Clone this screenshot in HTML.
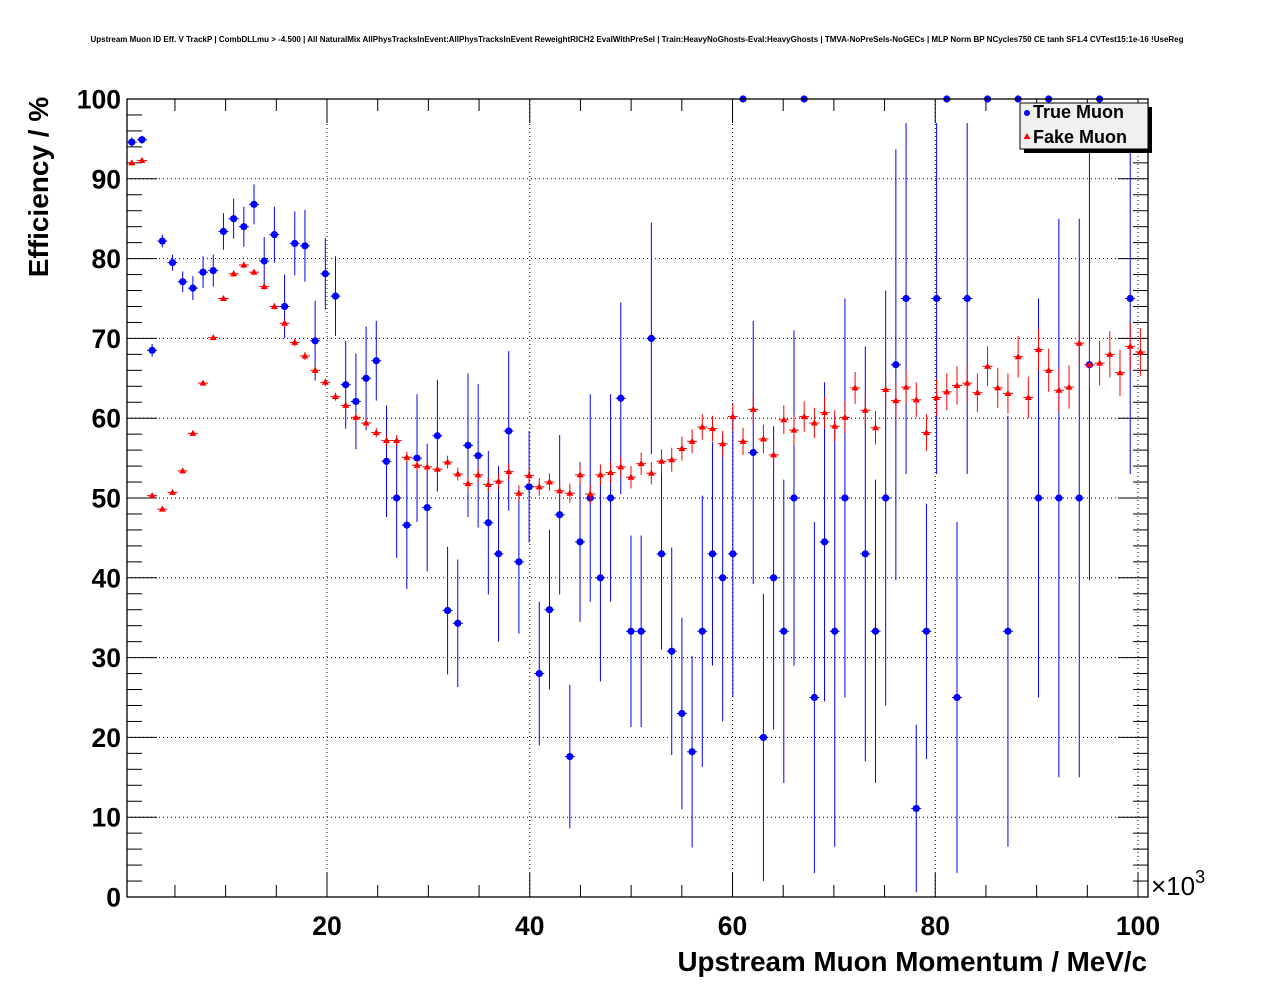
<!DOCTYPE html>
<html><head><meta charset="utf-8"><style>
html,body{margin:0;padding:0;background:#fff;}
svg{display:block;font-family:"Liberation Sans",sans-serif;}
</style></head><body>
<svg id="c" width="1276" height="996" viewBox="0 0 1276 996">
<text x="637" y="42" font-size="8" font-weight="bold" text-anchor="middle">Upstream Muon ID Eff. V TrackP | CombDLLmu &gt; -4.500 | All NaturalMix AllPhysTracksInEvent:AllPhysTracksInEvent ReweightRICH2 EvalWithPreSel | Train:HeavyNoGhosts-Eval:HeavyGhosts | TMVA-NoPreSels-NoGECs | MLP Norm BP NCycles750 CE tanh SF1.4 CVTest15:1e-16 !UseReg</text>
<g id="grid"></g>
<g id="ticks"></g>
<g id="blue"></g>
<g id="red"></g>
<rect x="127" y="99" width="1021" height="798" fill="none" stroke="#000" stroke-width="1.3"/>
<text x="1151" y="895" font-size="26">×10<tspan font-size="18" dy="-12">3</tspan></text>
<text x="1147" y="971" font-size="27.8" font-weight="bold" text-anchor="end">Upstream Muon Momentum / MeV/c</text>
<text transform="translate(48,187) rotate(-90)" font-size="28" font-weight="bold" text-anchor="middle">Efficiency / %</text>
<g>
<rect x="1024" y="107" width="128" height="46" fill="#000"/>
<rect x="1020" y="103" width="128" height="46" fill="#f0f0f0" stroke="#000" stroke-width="1"/>
<circle cx="1027" cy="113" r="3" fill="#0000ff"/>
<text x="1033" y="118" font-size="18" font-weight="bold">True Muon</text>
<polygon points="1027,133 1023.5,139 1030.5,139" fill="#ff0000"/>
<text x="1033" y="143" font-size="18" font-weight="bold">Fake Muon</text>
</g>
</svg>
<script>
const xTicks=[20,40,60,80,100];
const yTicks=[0,10,20,30,40,50,60,70,80,90,100];
const redVals=[92,92.3,50.3,48.6,50.7,53.4,58.1,64.4,70.1,75,78.1,79.2,78.3,76.5,74,71.9,69.5,67.8,66,64.5,62.7,61.6,60.1,59.4,58.2,57.2,57.2,55.1,54.1,53.9,53.6,54.5,53,51.8,52.9,51.7,52.1,53.3,50.6,52.8,51.4,52,50.9,50.6,52.9,50.5,52.9,53.2,53.9,52.6,54.3,53.1,54.6,54.8,56.2,57.1,58.9,58.7,56.8,60.2,57.1,61.1,57.4,55.4,59.8,58.5,60.2,59.4,60.7,59,60.1,63.8,61,58.8,63.6,62.2,63.9,62.3,58.2,62.6,63.3,64.1,64.4,63.2,66.5,63.8,63.1,67.7,62.6,68.6,66,63.5,63.9,69.4,66.7,66.9,68,65.7,69,68.3];
const redErrs=[0.3,0.3,0.3,0.3,0.3,0.3,0.3,0.3,0.3,0.3,0.4,0.4,0.4,0.4,0.4,0.5,0.5,0.5,0.5,0.5,0.5,0.6,0.6,0.6,0.6,0.7,0.7,0.7,0.7,0.8,0.8,0.8,0.8,0.9,0.9,0.9,1,1,1,1,1.1,1.1,1.1,1.2,1.2,1.2,1.3,1.3,1.3,1.4,1.4,1.4,1.5,1.5,1.5,1.5,1.6,1.6,1.6,1.7,1.7,1.7,1.8,1.8,1.8,1.9,1.9,1.9,2,2,2,2,2.1,2.1,2.1,2.2,2.2,2.2,2.3,2.3,2.3,2.4,2.4,2.4,2.5,2.5,2.5,2.6,2.6,2.6,2.7,2.7,2.7,2.8,2.8,2.8,2.9,2.9,3,3];
const blueBins=[0,1,2,3,4,5,6,7,8,9,10,11,12,13,14,15,16,17,18,19,20,21,22,23,24,25,26,27,28,29,30,31,32,33,34,35,36,37,38,39,40,41,42,43,44,45,46,47,48,49,50,51,52,53,54,55,56,57,58,59,60,61,62,63,64,65,66,67,68,69,70,72,73,74,75,76,77,78,79,80,81,82,84,86,87,89,90,91,93,94,95,98];
const blueVals=[94.6,94.9,68.5,82.2,79.5,77.1,76.3,78.3,78.5,83.4,85,84,86.8,79.7,83,74,81.9,81.6,69.7,78.1,75.3,64.2,62.1,65,67.2,54.6,50,46.6,55,48.8,57.8,35.9,34.3,56.6,55.3,46.9,43,58.4,42,51.4,28,36,47.9,17.6,44.5,50,40,50,62.5,33.3,33.3,70,43,30.8,23,18.2,33.3,43,40,43,100,55.7,20,40,33.3,50,100,25,44.5,33.3,50,43,33.3,50,66.7,75,11.1,33.3,75,100,25,75,100,33.3,100,50,100,50,50,66.7,100,75];
const blueErrs=[0.6,0.5,0.8,0.8,1,1.3,1.5,2,2,2.3,2.5,2.5,2.5,3,3.5,4,4,4.5,5,4.5,5,5.5,6,6.5,5,7,7.5,8,8,8,7,8,8,9,9,9,11,10,9,7,9,10,10,9,10,13,13,13,12,12,12,14.5,12,13,12,12,17,14,18,18,0,16.5,18,19,19,21,0,22,20,27,25,26,19,26,27,22,10.5,16,22,0,22,22,0,27,0,25,0,35,35,27,0,22];

const NS='http://www.w3.org/2000/svg';
const X0=127,X1=1148,Y0=897,Y1=99;
function xs(p){return 124.25+10.1375*p;}
function ys(v){return Y0-(v/100)*(Y0-Y1);}
function binCenter(i){return 0.74+1.005*i;}
const halfW=5;
function mk(tag,attrs,parent){const e=document.createElementNS(NS,tag);for(const k in attrs)e.setAttribute(k,attrs[k]);parent.appendChild(e);return e;}
const grid=document.getElementById('grid'),ticks=document.getElementById('ticks'),svg=document.getElementById('c');
xTicks.forEach(t=>{
  const x=xs(t);
  const g=mk('line',{x1:x,x2:x,y1:Y0,y2:Y1,stroke:'#000','stroke-width':1,'stroke-dasharray':'1,3'},grid);
  
  
  const l=mk('text',{x:x,y:935,'font-size':26.5,'font-weight':'bold','text-anchor':'middle'},svg);
  l.textContent=t;
  
  
});
yTicks.forEach(t=>{
  const y=ys(t);
  if(t>0&&t<100){const g=mk('line',{x1:X0,x2:X1,y1:y,y2:y,stroke:'#000','stroke-width':1,'stroke-dasharray':'1,3'},grid);
  
  }
  const l=mk('text',{x:121,y:y+9.5,'font-size':26.5,'font-weight':'bold','text-anchor':'end'},svg);
  l.textContent=t;
  
  
});
for(let v=0;v<=100;v+=2){const y=ys(v);const L=(v%10===0)?30:15;
  mk('line',{x1:X0,x2:X0+L,y1:y,y2:y,stroke:'#000','stroke-width':1},ticks);
  mk('line',{x1:X1,x2:X1-L,y1:y,y2:y,stroke:'#000','stroke-width':1},ticks);}
for(let p=5;p<=100;p+=5){const x=xs(p);const L=(p%20===0)?24:12;
  mk('line',{x1:x,x2:x,y1:Y0,y2:Y0-L,stroke:'#000','stroke-width':1},ticks);
  mk('line',{x1:x,x2:x,y1:Y1,y2:Y1+L,stroke:'#000','stroke-width':1},ticks);}
const red=document.getElementById('red');
redVals.forEach((v,i)=>{
  const x=xs(binCenter(i)),y=ys(v),e=redErrs[i]*7.98;
  mk('line',{x1:x-halfW,x2:x+halfW,y1:y,y2:y,stroke:'#ff0000','stroke-width':1},red);
  mk('line',{x1:x,x2:x,y1:Math.max(Y1,y-e),y2:Math.min(Y0,y+e),stroke:'#ff0000','stroke-width':1},red);
  const m=mk('polygon',{points:`${x},${y-3.5} ${x-3.5},${y+2.5} ${x+3.5},${y+2.5}`,fill:'#ff0000'},red);
  
  
});
const blue=document.getElementById('blue');
blueBins.forEach((b,k)=>{
  const x=xs(binCenter(b)),y=ys(blueVals[k]),e=blueErrs[k]*7.98;
  mk('line',{x1:x-halfW,x2:x+halfW,y1:y,y2:y,stroke:'#0000ff','stroke-width':1},blue);
  if(e>0)mk('line',{x1:x,x2:x,y1:Math.max(Y1,y-e),y2:Math.min(Y0,y+e),stroke:'#0000ff','stroke-width':1},blue);
  const m=mk('circle',{cx:x,cy:y,r:3.6,fill:'#0000ff'},blue);
  
  
});
</script>
</body></html>
